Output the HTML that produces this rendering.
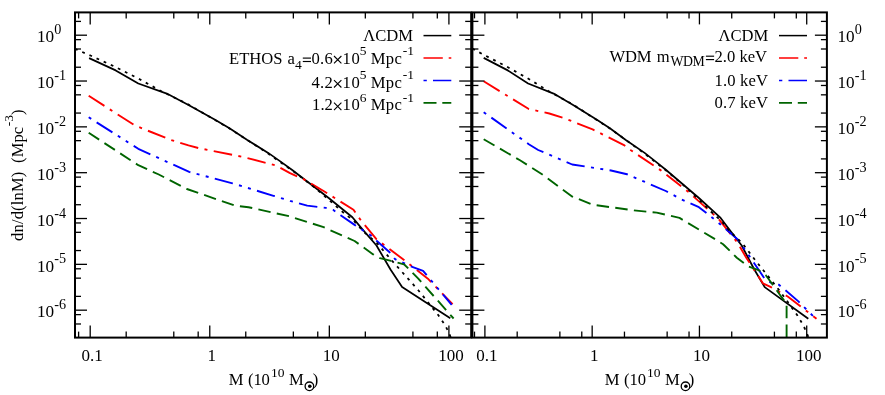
<!DOCTYPE html>
<html><head><meta charset="utf-8"><title>Halo mass functions</title>
<style>
html,body{margin:0;padding:0;background:#fff;}
body{width:885px;height:395px;overflow:hidden;}
svg{display:block;will-change:transform;}
text{font-family:"Liberation Serif",serif;fill:#000;}
</style></head><body>
<svg width="885" height="395" viewBox="0 0 885 395">
<defs>
<clipPath id="cl"><rect x="75" y="12.4" width="396.2" height="325.20"/></clipPath>
<clipPath id="cr"><rect x="472.4" y="12.4" width="354.5" height="325.20"/></clipPath>
</defs>
<rect x="0" y="0" width="885" height="395" fill="#fff"/>
<g clip-path="url(#cl)">
<polyline points="89.1,58.1 115.7,70.4 138.3,83.5 166.8,93.6 188.5,105.0 214.6,119.5 229.5,128.3 247.3,140.0 268.2,152.9 280.3,161.4 292.2,170.0 328.7,198.0 352.4,217.3 361.0,227.6 376.5,245.5 390.5,269.5 402.1,287.1 450.3,318.3" fill="none" stroke="#000" stroke-width="1.75" stroke-linejoin="round"/>
<polyline points="88.7,95.8 134.9,125.5 171.0,140.0 188.5,145.4 198.3,148.0 243.9,157.1 264.8,162.6 275.8,165.4 290.0,173.2 303.1,178.9 324.4,191.5 353.5,209.8 361.0,220.6 376.4,239.2 404.7,260.5 427.9,278.7 452.6,304.2" fill="none" stroke="#ff0000" stroke-width="1.9" stroke-linejoin="round" stroke-dasharray="18.7 6.4 3 6.4"/>
<polyline points="88.7,117.3 138.3,148.8 189.2,171.9 232.5,183.3 273.5,195.8 290.0,200.8 307.2,205.6 325.9,207.9 333.0,209.8 340.6,215.2 354.6,224.9 370.5,235.3 389.6,252.3 395.1,259.2 410.1,266.0 423.1,270.8 426.5,274.9 451.7,304.9" fill="none" stroke="#0000ff" stroke-width="1.9" stroke-linejoin="round" stroke-dasharray="3 6.4 18.7 6.4 3 6.4"/>
<polyline points="88.7,132.8 138.3,165.2 158.8,174.5 186.9,189.0 234.8,205.6 248.5,207.2 289.5,216.3 323.6,227.2 354.6,241.0 373.2,254.4 380.0,258.2 391.0,260.8 404.0,264.3 408.8,268.9 418.3,278.7 453.6,318.5" fill="none" stroke="#006400" stroke-width="1.9" stroke-linejoin="round" stroke-dasharray="12.5 6.3"/>
<polyline points="75.0,48.9 90.0,55.3 115.0,66.8 139.6,79.2 161.0,91.0 188.5,104.6 229.5,128.4 268.2,153.6 292.2,170.5 315.0,187.8 328.7,199.7 342.7,212.0 354.6,221.6 363.7,231.8 377.3,243.5 392.4,261.2 408.2,278.8 418.5,290.5 428.8,303.3 438.2,315.0 443.8,323.3 446.8,328.5 450.8,337.3" fill="none" stroke="#000" stroke-width="1.8" stroke-linejoin="round" stroke-dasharray="2.8 5.04"/>
</g><g clip-path="url(#cr)">
<polyline points="483.7,57.9 507.8,70.4 528.1,83.5 553.6,93.6 573.1,105.0 596.5,119.5 609.9,128.3 625.8,140.0 644.6,152.9 655.4,161.4 666.1,170.0 698.9,198.0 720.1,217.3 727.8,227.6 741.7,245.5 754.3,269.5 764.7,287.1 808.3,318.7" fill="none" stroke="#000" stroke-width="1.75" stroke-linejoin="round"/>
<polyline points="483.7,81.3 528.8,109.0 549.3,113.5 563.0,117.7 592.6,129.4 624.5,145.4 630.5,150.0 660.9,170.4 688.6,192.1 718.5,218.9 736.8,241.7 746.3,257.7 762.9,283.3 771.0,287.2 787.7,296.5 816.5,318.7" fill="none" stroke="#ff0000" stroke-width="1.9" stroke-linejoin="round" stroke-dasharray="18.7 6.4 3 6.4"/>
<polyline points="483.7,112.2 528.8,144.2 538.2,150.0 572.2,164.5 611.0,170.5 627.0,174.2 665.8,191.0 681.7,199.5 698.9,207.2 705.8,212.4 720.5,224.4 738.6,240.3 748.9,255.4 764.3,278.2 771.7,283.3 779.0,284.8 798.4,301.4 813.2,316.2" fill="none" stroke="#0000ff" stroke-width="1.9" stroke-linejoin="round" stroke-dasharray="3 6.4 18.7 6.4 3 6.4"/>
<polyline points="483.7,139.2 520.0,160.3 542.4,174.5 572.4,196.7 592.9,204.7 633.9,210.4 656.7,212.6 679.5,217.9 714.6,238.9 723.1,244.2 736.8,257.7 748.2,266.4 758.5,270.1 765.8,275.3 771.7,283.3 782.0,297.7 786.6,303.5 786.6,337.6" fill="none" stroke="#006400" stroke-width="1.9" stroke-linejoin="round" stroke-dasharray="12.5 6.3"/>
<polyline points="472.4,48.6 484.7,55.3 507.1,66.8 529.2,79.2 548.4,91.0 573.1,104.6 609.9,128.4 644.6,153.6 666.1,170.5 686.6,187.8 698.9,199.7 711.4,212.0 722.1,221.6 730.3,231.8 742.5,243.5 756.0,261.2 770.2,278.8 779.4,290.5 788.7,303.3 797.1,315.0 802.1,323.3 804.8,328.5 808.6,337.6" fill="none" stroke="#000" stroke-width="1.8" stroke-linejoin="round" stroke-dasharray="2.8 5.04"/>
</g>
<rect x="75.0" y="12.4" width="396.20" height="325.20" fill="none" stroke="#000" stroke-width="2.0"/>
<line x1="78.61" y1="12.40" x2="78.61" y2="18.40" stroke="#000" stroke-width="1.3"/>
<line x1="78.61" y1="337.60" x2="78.61" y2="331.60" stroke="#000" stroke-width="1.3"/>
<line x1="90.20" y1="12.40" x2="90.20" y2="24.40" stroke="#000" stroke-width="1.3"/>
<line x1="90.20" y1="337.60" x2="90.20" y2="325.60" stroke="#000" stroke-width="1.3"/>
<line x1="126.19" y1="12.40" x2="126.19" y2="18.40" stroke="#000" stroke-width="1.3"/>
<line x1="126.19" y1="337.60" x2="126.19" y2="331.60" stroke="#000" stroke-width="1.3"/>
<line x1="173.78" y1="12.40" x2="173.78" y2="18.40" stroke="#000" stroke-width="1.3"/>
<line x1="173.78" y1="337.60" x2="173.78" y2="331.60" stroke="#000" stroke-width="1.3"/>
<line x1="198.18" y1="12.40" x2="198.18" y2="18.40" stroke="#000" stroke-width="1.3"/>
<line x1="198.18" y1="337.60" x2="198.18" y2="331.60" stroke="#000" stroke-width="1.3"/>
<line x1="209.77" y1="12.40" x2="209.77" y2="24.40" stroke="#000" stroke-width="1.3"/>
<line x1="209.77" y1="337.60" x2="209.77" y2="325.60" stroke="#000" stroke-width="1.3"/>
<line x1="245.76" y1="12.40" x2="245.76" y2="18.40" stroke="#000" stroke-width="1.3"/>
<line x1="245.76" y1="337.60" x2="245.76" y2="331.60" stroke="#000" stroke-width="1.3"/>
<line x1="293.35" y1="12.40" x2="293.35" y2="18.40" stroke="#000" stroke-width="1.3"/>
<line x1="293.35" y1="337.60" x2="293.35" y2="331.60" stroke="#000" stroke-width="1.3"/>
<line x1="317.75" y1="12.40" x2="317.75" y2="18.40" stroke="#000" stroke-width="1.3"/>
<line x1="317.75" y1="337.60" x2="317.75" y2="331.60" stroke="#000" stroke-width="1.3"/>
<line x1="329.34" y1="12.40" x2="329.34" y2="24.40" stroke="#000" stroke-width="1.3"/>
<line x1="329.34" y1="337.60" x2="329.34" y2="325.60" stroke="#000" stroke-width="1.3"/>
<line x1="365.33" y1="12.40" x2="365.33" y2="18.40" stroke="#000" stroke-width="1.3"/>
<line x1="365.33" y1="337.60" x2="365.33" y2="331.60" stroke="#000" stroke-width="1.3"/>
<line x1="412.92" y1="12.40" x2="412.92" y2="18.40" stroke="#000" stroke-width="1.3"/>
<line x1="412.92" y1="337.60" x2="412.92" y2="331.60" stroke="#000" stroke-width="1.3"/>
<line x1="437.32" y1="12.40" x2="437.32" y2="18.40" stroke="#000" stroke-width="1.3"/>
<line x1="437.32" y1="337.60" x2="437.32" y2="331.60" stroke="#000" stroke-width="1.3"/>
<line x1="448.91" y1="12.40" x2="448.91" y2="24.40" stroke="#000" stroke-width="1.3"/>
<line x1="448.91" y1="337.60" x2="448.91" y2="325.60" stroke="#000" stroke-width="1.3"/>
<line x1="75.00" y1="323.98" x2="81.00" y2="323.98" stroke="#000" stroke-width="1.3"/>
<line x1="471.20" y1="323.98" x2="465.20" y2="323.98" stroke="#000" stroke-width="1.3"/>
<line x1="75.00" y1="314.62" x2="81.00" y2="314.62" stroke="#000" stroke-width="1.3"/>
<line x1="471.20" y1="314.62" x2="465.20" y2="314.62" stroke="#000" stroke-width="1.3"/>
<line x1="75.00" y1="310.18" x2="87.00" y2="310.18" stroke="#000" stroke-width="1.3"/>
<line x1="471.20" y1="310.18" x2="459.20" y2="310.18" stroke="#000" stroke-width="1.3"/>
<line x1="75.00" y1="296.38" x2="81.00" y2="296.38" stroke="#000" stroke-width="1.3"/>
<line x1="471.20" y1="296.38" x2="465.20" y2="296.38" stroke="#000" stroke-width="1.3"/>
<line x1="75.00" y1="278.15" x2="81.00" y2="278.15" stroke="#000" stroke-width="1.3"/>
<line x1="471.20" y1="278.15" x2="465.20" y2="278.15" stroke="#000" stroke-width="1.3"/>
<line x1="75.00" y1="268.79" x2="81.00" y2="268.79" stroke="#000" stroke-width="1.3"/>
<line x1="471.20" y1="268.79" x2="465.20" y2="268.79" stroke="#000" stroke-width="1.3"/>
<line x1="75.00" y1="264.35" x2="87.00" y2="264.35" stroke="#000" stroke-width="1.3"/>
<line x1="471.20" y1="264.35" x2="459.20" y2="264.35" stroke="#000" stroke-width="1.3"/>
<line x1="75.00" y1="250.55" x2="81.00" y2="250.55" stroke="#000" stroke-width="1.3"/>
<line x1="471.20" y1="250.55" x2="465.20" y2="250.55" stroke="#000" stroke-width="1.3"/>
<line x1="75.00" y1="232.32" x2="81.00" y2="232.32" stroke="#000" stroke-width="1.3"/>
<line x1="471.20" y1="232.32" x2="465.20" y2="232.32" stroke="#000" stroke-width="1.3"/>
<line x1="75.00" y1="222.96" x2="81.00" y2="222.96" stroke="#000" stroke-width="1.3"/>
<line x1="471.20" y1="222.96" x2="465.20" y2="222.96" stroke="#000" stroke-width="1.3"/>
<line x1="75.00" y1="218.52" x2="87.00" y2="218.52" stroke="#000" stroke-width="1.3"/>
<line x1="471.20" y1="218.52" x2="459.20" y2="218.52" stroke="#000" stroke-width="1.3"/>
<line x1="75.00" y1="204.72" x2="81.00" y2="204.72" stroke="#000" stroke-width="1.3"/>
<line x1="471.20" y1="204.72" x2="465.20" y2="204.72" stroke="#000" stroke-width="1.3"/>
<line x1="75.00" y1="186.49" x2="81.00" y2="186.49" stroke="#000" stroke-width="1.3"/>
<line x1="471.20" y1="186.49" x2="465.20" y2="186.49" stroke="#000" stroke-width="1.3"/>
<line x1="75.00" y1="177.13" x2="81.00" y2="177.13" stroke="#000" stroke-width="1.3"/>
<line x1="471.20" y1="177.13" x2="465.20" y2="177.13" stroke="#000" stroke-width="1.3"/>
<line x1="75.00" y1="172.69" x2="87.00" y2="172.69" stroke="#000" stroke-width="1.3"/>
<line x1="471.20" y1="172.69" x2="459.20" y2="172.69" stroke="#000" stroke-width="1.3"/>
<line x1="75.00" y1="158.89" x2="81.00" y2="158.89" stroke="#000" stroke-width="1.3"/>
<line x1="471.20" y1="158.89" x2="465.20" y2="158.89" stroke="#000" stroke-width="1.3"/>
<line x1="75.00" y1="140.66" x2="81.00" y2="140.66" stroke="#000" stroke-width="1.3"/>
<line x1="471.20" y1="140.66" x2="465.20" y2="140.66" stroke="#000" stroke-width="1.3"/>
<line x1="75.00" y1="131.30" x2="81.00" y2="131.30" stroke="#000" stroke-width="1.3"/>
<line x1="471.20" y1="131.30" x2="465.20" y2="131.30" stroke="#000" stroke-width="1.3"/>
<line x1="75.00" y1="126.86" x2="87.00" y2="126.86" stroke="#000" stroke-width="1.3"/>
<line x1="471.20" y1="126.86" x2="459.20" y2="126.86" stroke="#000" stroke-width="1.3"/>
<line x1="75.00" y1="113.06" x2="81.00" y2="113.06" stroke="#000" stroke-width="1.3"/>
<line x1="471.20" y1="113.06" x2="465.20" y2="113.06" stroke="#000" stroke-width="1.3"/>
<line x1="75.00" y1="94.83" x2="81.00" y2="94.83" stroke="#000" stroke-width="1.3"/>
<line x1="471.20" y1="94.83" x2="465.20" y2="94.83" stroke="#000" stroke-width="1.3"/>
<line x1="75.00" y1="85.47" x2="81.00" y2="85.47" stroke="#000" stroke-width="1.3"/>
<line x1="471.20" y1="85.47" x2="465.20" y2="85.47" stroke="#000" stroke-width="1.3"/>
<line x1="75.00" y1="81.03" x2="87.00" y2="81.03" stroke="#000" stroke-width="1.3"/>
<line x1="471.20" y1="81.03" x2="459.20" y2="81.03" stroke="#000" stroke-width="1.3"/>
<line x1="75.00" y1="67.23" x2="81.00" y2="67.23" stroke="#000" stroke-width="1.3"/>
<line x1="471.20" y1="67.23" x2="465.20" y2="67.23" stroke="#000" stroke-width="1.3"/>
<line x1="75.00" y1="49.00" x2="81.00" y2="49.00" stroke="#000" stroke-width="1.3"/>
<line x1="471.20" y1="49.00" x2="465.20" y2="49.00" stroke="#000" stroke-width="1.3"/>
<line x1="75.00" y1="39.64" x2="81.00" y2="39.64" stroke="#000" stroke-width="1.3"/>
<line x1="471.20" y1="39.64" x2="465.20" y2="39.64" stroke="#000" stroke-width="1.3"/>
<line x1="75.00" y1="35.20" x2="87.00" y2="35.20" stroke="#000" stroke-width="1.3"/>
<line x1="471.20" y1="35.20" x2="459.20" y2="35.20" stroke="#000" stroke-width="1.3"/>
<line x1="75.00" y1="21.40" x2="81.00" y2="21.40" stroke="#000" stroke-width="1.3"/>
<line x1="471.20" y1="21.40" x2="465.20" y2="21.40" stroke="#000" stroke-width="1.3"/>
<rect x="472.4" y="12.4" width="354.50" height="325.20" fill="none" stroke="#000" stroke-width="2.0"/>
<line x1="474.50" y1="12.40" x2="474.50" y2="18.40" stroke="#000" stroke-width="1.3"/>
<line x1="474.50" y1="337.60" x2="474.50" y2="331.60" stroke="#000" stroke-width="1.3"/>
<line x1="484.90" y1="12.40" x2="484.90" y2="24.40" stroke="#000" stroke-width="1.3"/>
<line x1="484.90" y1="337.60" x2="484.90" y2="325.60" stroke="#000" stroke-width="1.3"/>
<line x1="517.19" y1="12.40" x2="517.19" y2="18.40" stroke="#000" stroke-width="1.3"/>
<line x1="517.19" y1="337.60" x2="517.19" y2="331.60" stroke="#000" stroke-width="1.3"/>
<line x1="559.88" y1="12.40" x2="559.88" y2="18.40" stroke="#000" stroke-width="1.3"/>
<line x1="559.88" y1="337.60" x2="559.88" y2="331.60" stroke="#000" stroke-width="1.3"/>
<line x1="581.77" y1="12.40" x2="581.77" y2="18.40" stroke="#000" stroke-width="1.3"/>
<line x1="581.77" y1="337.60" x2="581.77" y2="331.60" stroke="#000" stroke-width="1.3"/>
<line x1="592.17" y1="12.40" x2="592.17" y2="24.40" stroke="#000" stroke-width="1.3"/>
<line x1="592.17" y1="337.60" x2="592.17" y2="325.60" stroke="#000" stroke-width="1.3"/>
<line x1="624.46" y1="12.40" x2="624.46" y2="18.40" stroke="#000" stroke-width="1.3"/>
<line x1="624.46" y1="337.60" x2="624.46" y2="331.60" stroke="#000" stroke-width="1.3"/>
<line x1="667.15" y1="12.40" x2="667.15" y2="18.40" stroke="#000" stroke-width="1.3"/>
<line x1="667.15" y1="337.60" x2="667.15" y2="331.60" stroke="#000" stroke-width="1.3"/>
<line x1="689.04" y1="12.40" x2="689.04" y2="18.40" stroke="#000" stroke-width="1.3"/>
<line x1="689.04" y1="337.60" x2="689.04" y2="331.60" stroke="#000" stroke-width="1.3"/>
<line x1="699.44" y1="12.40" x2="699.44" y2="24.40" stroke="#000" stroke-width="1.3"/>
<line x1="699.44" y1="337.60" x2="699.44" y2="325.60" stroke="#000" stroke-width="1.3"/>
<line x1="731.73" y1="12.40" x2="731.73" y2="18.40" stroke="#000" stroke-width="1.3"/>
<line x1="731.73" y1="337.60" x2="731.73" y2="331.60" stroke="#000" stroke-width="1.3"/>
<line x1="774.42" y1="12.40" x2="774.42" y2="18.40" stroke="#000" stroke-width="1.3"/>
<line x1="774.42" y1="337.60" x2="774.42" y2="331.60" stroke="#000" stroke-width="1.3"/>
<line x1="796.31" y1="12.40" x2="796.31" y2="18.40" stroke="#000" stroke-width="1.3"/>
<line x1="796.31" y1="337.60" x2="796.31" y2="331.60" stroke="#000" stroke-width="1.3"/>
<line x1="806.71" y1="12.40" x2="806.71" y2="24.40" stroke="#000" stroke-width="1.3"/>
<line x1="806.71" y1="337.60" x2="806.71" y2="325.60" stroke="#000" stroke-width="1.3"/>
<line x1="472.40" y1="323.98" x2="478.40" y2="323.98" stroke="#000" stroke-width="1.3"/>
<line x1="826.90" y1="323.98" x2="820.90" y2="323.98" stroke="#000" stroke-width="1.3"/>
<line x1="472.40" y1="314.62" x2="478.40" y2="314.62" stroke="#000" stroke-width="1.3"/>
<line x1="826.90" y1="314.62" x2="820.90" y2="314.62" stroke="#000" stroke-width="1.3"/>
<line x1="472.40" y1="310.18" x2="484.40" y2="310.18" stroke="#000" stroke-width="1.3"/>
<line x1="826.90" y1="310.18" x2="814.90" y2="310.18" stroke="#000" stroke-width="1.3"/>
<line x1="472.40" y1="296.38" x2="478.40" y2="296.38" stroke="#000" stroke-width="1.3"/>
<line x1="826.90" y1="296.38" x2="820.90" y2="296.38" stroke="#000" stroke-width="1.3"/>
<line x1="472.40" y1="278.15" x2="478.40" y2="278.15" stroke="#000" stroke-width="1.3"/>
<line x1="826.90" y1="278.15" x2="820.90" y2="278.15" stroke="#000" stroke-width="1.3"/>
<line x1="472.40" y1="268.79" x2="478.40" y2="268.79" stroke="#000" stroke-width="1.3"/>
<line x1="826.90" y1="268.79" x2="820.90" y2="268.79" stroke="#000" stroke-width="1.3"/>
<line x1="472.40" y1="264.35" x2="484.40" y2="264.35" stroke="#000" stroke-width="1.3"/>
<line x1="826.90" y1="264.35" x2="814.90" y2="264.35" stroke="#000" stroke-width="1.3"/>
<line x1="472.40" y1="250.55" x2="478.40" y2="250.55" stroke="#000" stroke-width="1.3"/>
<line x1="826.90" y1="250.55" x2="820.90" y2="250.55" stroke="#000" stroke-width="1.3"/>
<line x1="472.40" y1="232.32" x2="478.40" y2="232.32" stroke="#000" stroke-width="1.3"/>
<line x1="826.90" y1="232.32" x2="820.90" y2="232.32" stroke="#000" stroke-width="1.3"/>
<line x1="472.40" y1="222.96" x2="478.40" y2="222.96" stroke="#000" stroke-width="1.3"/>
<line x1="826.90" y1="222.96" x2="820.90" y2="222.96" stroke="#000" stroke-width="1.3"/>
<line x1="472.40" y1="218.52" x2="484.40" y2="218.52" stroke="#000" stroke-width="1.3"/>
<line x1="826.90" y1="218.52" x2="814.90" y2="218.52" stroke="#000" stroke-width="1.3"/>
<line x1="472.40" y1="204.72" x2="478.40" y2="204.72" stroke="#000" stroke-width="1.3"/>
<line x1="826.90" y1="204.72" x2="820.90" y2="204.72" stroke="#000" stroke-width="1.3"/>
<line x1="472.40" y1="186.49" x2="478.40" y2="186.49" stroke="#000" stroke-width="1.3"/>
<line x1="826.90" y1="186.49" x2="820.90" y2="186.49" stroke="#000" stroke-width="1.3"/>
<line x1="472.40" y1="177.13" x2="478.40" y2="177.13" stroke="#000" stroke-width="1.3"/>
<line x1="826.90" y1="177.13" x2="820.90" y2="177.13" stroke="#000" stroke-width="1.3"/>
<line x1="472.40" y1="172.69" x2="484.40" y2="172.69" stroke="#000" stroke-width="1.3"/>
<line x1="826.90" y1="172.69" x2="814.90" y2="172.69" stroke="#000" stroke-width="1.3"/>
<line x1="472.40" y1="158.89" x2="478.40" y2="158.89" stroke="#000" stroke-width="1.3"/>
<line x1="826.90" y1="158.89" x2="820.90" y2="158.89" stroke="#000" stroke-width="1.3"/>
<line x1="472.40" y1="140.66" x2="478.40" y2="140.66" stroke="#000" stroke-width="1.3"/>
<line x1="826.90" y1="140.66" x2="820.90" y2="140.66" stroke="#000" stroke-width="1.3"/>
<line x1="472.40" y1="131.30" x2="478.40" y2="131.30" stroke="#000" stroke-width="1.3"/>
<line x1="826.90" y1="131.30" x2="820.90" y2="131.30" stroke="#000" stroke-width="1.3"/>
<line x1="472.40" y1="126.86" x2="484.40" y2="126.86" stroke="#000" stroke-width="1.3"/>
<line x1="826.90" y1="126.86" x2="814.90" y2="126.86" stroke="#000" stroke-width="1.3"/>
<line x1="472.40" y1="113.06" x2="478.40" y2="113.06" stroke="#000" stroke-width="1.3"/>
<line x1="826.90" y1="113.06" x2="820.90" y2="113.06" stroke="#000" stroke-width="1.3"/>
<line x1="472.40" y1="94.83" x2="478.40" y2="94.83" stroke="#000" stroke-width="1.3"/>
<line x1="826.90" y1="94.83" x2="820.90" y2="94.83" stroke="#000" stroke-width="1.3"/>
<line x1="472.40" y1="85.47" x2="478.40" y2="85.47" stroke="#000" stroke-width="1.3"/>
<line x1="826.90" y1="85.47" x2="820.90" y2="85.47" stroke="#000" stroke-width="1.3"/>
<line x1="472.40" y1="81.03" x2="484.40" y2="81.03" stroke="#000" stroke-width="1.3"/>
<line x1="826.90" y1="81.03" x2="814.90" y2="81.03" stroke="#000" stroke-width="1.3"/>
<line x1="472.40" y1="67.23" x2="478.40" y2="67.23" stroke="#000" stroke-width="1.3"/>
<line x1="826.90" y1="67.23" x2="820.90" y2="67.23" stroke="#000" stroke-width="1.3"/>
<line x1="472.40" y1="49.00" x2="478.40" y2="49.00" stroke="#000" stroke-width="1.3"/>
<line x1="826.90" y1="49.00" x2="820.90" y2="49.00" stroke="#000" stroke-width="1.3"/>
<line x1="472.40" y1="39.64" x2="478.40" y2="39.64" stroke="#000" stroke-width="1.3"/>
<line x1="826.90" y1="39.64" x2="820.90" y2="39.64" stroke="#000" stroke-width="1.3"/>
<line x1="472.40" y1="35.20" x2="484.40" y2="35.20" stroke="#000" stroke-width="1.3"/>
<line x1="826.90" y1="35.20" x2="814.90" y2="35.20" stroke="#000" stroke-width="1.3"/>
<line x1="472.40" y1="21.40" x2="478.40" y2="21.40" stroke="#000" stroke-width="1.3"/>
<line x1="826.90" y1="21.40" x2="820.90" y2="21.40" stroke="#000" stroke-width="1.3"/>
<text x="36.90" y="42.40" font-size="17.2" text-anchor="start">10</text>
<text x="54.30" y="34.20" font-size="14.2" text-anchor="start">0</text>
<text x="837.40" y="42.40" font-size="17.2" text-anchor="start">10</text>
<text x="854.80" y="34.20" font-size="14.2" text-anchor="start">0</text>
<text x="36.90" y="88.23" font-size="17.2" text-anchor="start">10</text>
<text x="54.30" y="80.03" font-size="14.2" text-anchor="start">-1</text>
<text x="837.40" y="88.23" font-size="17.2" text-anchor="start">10</text>
<text x="854.80" y="80.03" font-size="14.2" text-anchor="start">-1</text>
<text x="36.90" y="134.06" font-size="17.2" text-anchor="start">10</text>
<text x="54.30" y="125.86" font-size="14.2" text-anchor="start">-2</text>
<text x="837.40" y="134.06" font-size="17.2" text-anchor="start">10</text>
<text x="854.80" y="125.86" font-size="14.2" text-anchor="start">-2</text>
<text x="36.90" y="179.89" font-size="17.2" text-anchor="start">10</text>
<text x="54.30" y="171.69" font-size="14.2" text-anchor="start">-3</text>
<text x="837.40" y="179.89" font-size="17.2" text-anchor="start">10</text>
<text x="854.80" y="171.69" font-size="14.2" text-anchor="start">-3</text>
<text x="36.90" y="225.72" font-size="17.2" text-anchor="start">10</text>
<text x="54.30" y="217.52" font-size="14.2" text-anchor="start">-4</text>
<text x="837.40" y="225.72" font-size="17.2" text-anchor="start">10</text>
<text x="854.80" y="217.52" font-size="14.2" text-anchor="start">-4</text>
<text x="36.90" y="271.55" font-size="17.2" text-anchor="start">10</text>
<text x="54.30" y="263.35" font-size="14.2" text-anchor="start">-5</text>
<text x="837.40" y="271.55" font-size="17.2" text-anchor="start">10</text>
<text x="854.80" y="263.35" font-size="14.2" text-anchor="start">-5</text>
<text x="36.90" y="317.38" font-size="17.2" text-anchor="start">10</text>
<text x="54.30" y="309.18" font-size="14.2" text-anchor="start">-6</text>
<text x="837.40" y="317.38" font-size="17.2" text-anchor="start">10</text>
<text x="854.80" y="309.18" font-size="14.2" text-anchor="start">-6</text>
<text x="92.20" y="360.60" font-size="17.0" text-anchor="middle">0.1</text>
<text x="211.77" y="360.60" font-size="17.0" text-anchor="middle">1</text>
<text x="331.34" y="360.60" font-size="17.0" text-anchor="middle">10</text>
<text x="450.91" y="360.60" font-size="17.0" text-anchor="middle">100</text>
<text x="486.90" y="360.60" font-size="17.0" text-anchor="middle">0.1</text>
<text x="594.17" y="360.60" font-size="17.0" text-anchor="middle">1</text>
<text x="701.44" y="360.60" font-size="17.0" text-anchor="middle">10</text>
<text x="808.71" y="360.60" font-size="17.0" text-anchor="middle">100</text>
<text x="228.70" y="385.30" font-size="16.6" text-anchor="start">M</text>
<text x="248.00" y="385.30" font-size="16.6" text-anchor="start" textLength="21.9" lengthAdjust="spacing">(10</text>
<text x="271.00" y="377.40" font-size="13.5" text-anchor="start">10</text>
<text x="288.90" y="385.30" font-size="16.6" text-anchor="start">M</text>
<circle cx="309.40" cy="386.3" r="4.3" fill="none" stroke="#000" stroke-width="1.3"/>
<circle cx="309.80" cy="386.3" r="1.8" fill="#000"/>
<text x="312.70" y="385.30" font-size="16.6" text-anchor="start">)</text>
<text x="604.80" y="385.30" font-size="16.6" text-anchor="start">M</text>
<text x="624.10" y="385.30" font-size="16.6" text-anchor="start" textLength="21.9" lengthAdjust="spacing">(10</text>
<text x="647.10" y="377.40" font-size="13.5" text-anchor="start">10</text>
<text x="665.00" y="385.30" font-size="16.6" text-anchor="start">M</text>
<circle cx="685.50" cy="386.3" r="4.3" fill="none" stroke="#000" stroke-width="1.3"/>
<circle cx="685.90" cy="386.3" r="1.8" fill="#000"/>
<text x="688.80" y="385.30" font-size="16.6" text-anchor="start">)</text>
<g transform="translate(23.0,240.9) rotate(-90)">
<text x="0.00" y="0.00" font-size="16.6" text-anchor="start" textLength="69.2" lengthAdjust="spacing">dn/d(lnM)</text>
<text x="78.00" y="0.00" font-size="16.6" text-anchor="start" textLength="36.0" lengthAdjust="spacing">(Mpc</text>
<text x="114.60" y="-10.00" font-size="13.5" text-anchor="start">-3</text>
<text x="126.00" y="0.00" font-size="16.6" text-anchor="start">)</text>
</g>
<line x1="423.5" y1="35.6" x2="451.3" y2="35.6" stroke="#000" stroke-width="1.5"/>
<line x1="423.5" y1="58.0" x2="451.3" y2="58.0" stroke="#ff0000" stroke-width="1.7" stroke-dasharray="19.3 5.9 3 5.9"/>
<line x1="423.5" y1="80.5" x2="451.3" y2="80.5" stroke="#0000ff" stroke-width="1.7" stroke-dasharray="3.3 6.2 19 6.2 3 6.2"/>
<line x1="423.5" y1="102.9" x2="451.3" y2="102.9" stroke="#006400" stroke-width="1.7" stroke-dasharray="13 5.8"/>
<line x1="779.0" y1="35.6" x2="807.0" y2="35.6" stroke="#000" stroke-width="1.5"/>
<line x1="779.0" y1="58.0" x2="807.0" y2="58.0" stroke="#ff0000" stroke-width="1.7" stroke-dasharray="19.3 5.9 3 5.9"/>
<line x1="779.0" y1="80.5" x2="807.0" y2="80.5" stroke="#0000ff" stroke-width="1.7" stroke-dasharray="3.3 6.2 19 6.2 3 6.2"/>
<line x1="779.0" y1="102.9" x2="807.0" y2="102.9" stroke="#006400" stroke-width="1.7" stroke-dasharray="13 5.8"/>
<text x="363.30" y="41.30" font-size="16.6" text-anchor="start" textLength="49.6" lengthAdjust="spacing">&#923;CDM</text>
<text x="229.00" y="63.50" font-size="16.6" text-anchor="start" textLength="53.6" lengthAdjust="spacing">ETHOS</text>
<text x="287.50" y="63.50" font-size="16.6" text-anchor="start">a</text>
<text x="294.90" y="68.50" font-size="13.5" text-anchor="start">4</text>
<line x1="302.80" y1="58.10" x2="311.00" y2="58.10" stroke="#000" stroke-width="1.15"/>
<line x1="302.80" y1="61.50" x2="311.00" y2="61.50" stroke="#000" stroke-width="1.15"/>
<text x="311.50" y="63.50" font-size="16.6" text-anchor="start" textLength="21.4" lengthAdjust="spacing">0.6</text>
<path d="M334.00 56.00L341.40 63.40M334.00 63.40L341.40 56.00" stroke="#000" stroke-width="1.1" fill="none"/>
<text x="342.50" y="63.50" font-size="16.6" text-anchor="start" textLength="17.2" lengthAdjust="spacing">10</text>
<text x="359.80" y="54.80" font-size="13.5" text-anchor="start">5</text>
<text x="370.70" y="63.50" font-size="16.6" text-anchor="start" textLength="31.2" lengthAdjust="spacing">Mpc</text>
<text x="402.70" y="54.80" font-size="13.5" text-anchor="start">-1</text>
<text x="311.50" y="87.60" font-size="16.6" text-anchor="start" textLength="21.4" lengthAdjust="spacing">4.2</text>
<path d="M334.00 80.10L341.40 87.50M334.00 87.50L341.40 80.10" stroke="#000" stroke-width="1.1" fill="none"/>
<text x="342.50" y="87.60" font-size="16.6" text-anchor="start" textLength="17.2" lengthAdjust="spacing">10</text>
<text x="359.80" y="78.90" font-size="13.5" text-anchor="start">5</text>
<text x="370.70" y="87.60" font-size="16.6" text-anchor="start" textLength="31.2" lengthAdjust="spacing">Mpc</text>
<text x="402.70" y="78.90" font-size="13.5" text-anchor="start">-1</text>
<text x="312.10" y="110.20" font-size="16.6" text-anchor="start" textLength="20.8" lengthAdjust="spacing">1.2</text>
<path d="M334.00 102.70L341.40 110.10M334.00 110.10L341.40 102.70" stroke="#000" stroke-width="1.1" fill="none"/>
<text x="342.50" y="110.20" font-size="16.6" text-anchor="start" textLength="17.2" lengthAdjust="spacing">10</text>
<text x="359.80" y="101.50" font-size="13.5" text-anchor="start">6</text>
<text x="370.70" y="110.20" font-size="16.6" text-anchor="start" textLength="31.2" lengthAdjust="spacing">Mpc</text>
<text x="402.70" y="101.50" font-size="13.5" text-anchor="start">-1</text>
<text x="718.60" y="41.30" font-size="16.6" text-anchor="start" textLength="49.6" lengthAdjust="spacing">&#923;CDM</text>
<text x="609.50" y="61.60" font-size="16.6" text-anchor="start" textLength="42.0" lengthAdjust="spacing">WDM</text>
<text x="656.80" y="61.60" font-size="16.6" text-anchor="start">m</text>
<text x="670.40" y="66.40" font-size="13.8" text-anchor="start" textLength="34.5" lengthAdjust="spacing">WDM</text>
<line x1="705.90" y1="56.20" x2="714.10" y2="56.20" stroke="#000" stroke-width="1.15"/>
<line x1="705.90" y1="59.60" x2="714.10" y2="59.60" stroke="#000" stroke-width="1.15"/>
<text x="714.60" y="61.60" font-size="16.6" text-anchor="start" textLength="52.4" lengthAdjust="spacing">2.0 keV</text>
<text x="714.60" y="85.90" font-size="16.6" text-anchor="start" textLength="53.4" lengthAdjust="spacing">1.0 keV</text>
<text x="714.60" y="108.30" font-size="16.6" text-anchor="start" textLength="53.4" lengthAdjust="spacing">0.7 keV</text>
</svg>
</body></html>
